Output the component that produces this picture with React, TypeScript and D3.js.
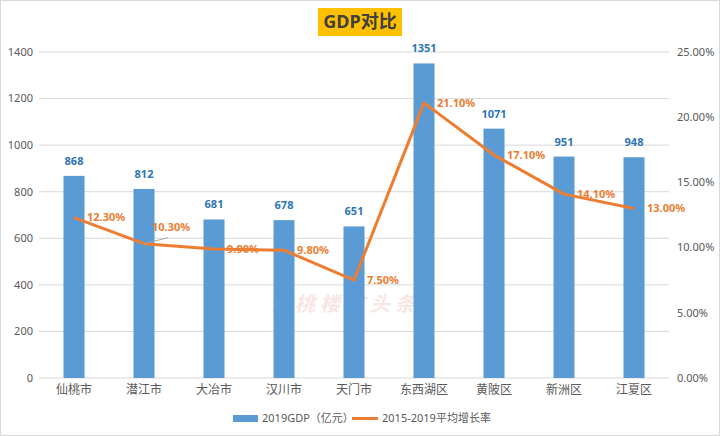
import React from 'react';
import * as d3 from 'd3';

const categories = ['仙桃市', '潜江市', '大冶市', '汉川市', '天门市', '东西湖区', '黄陂区', '新洲区', '江夏区'];
const gdp = [868, 812, 681, 678, 651, 1351, 1071, 951, 948];
const growth = [12.3, 10.3, 9.9, 9.8, 7.5, 21.1, 17.1, 14.1, 13.0];
const leftTicks = [0, 200, 400, 600, 800, 1000, 1200, 1400];
const rightTicks = [0, 5, 10, 15, 20, 25];

const W = 720;
const H = 436;
const margin = { top: 52, right: 51, bottom: 58, left: 39 };
const FONT = '"Noto Sans", "Noto Sans CJK SC", sans-serif';

export default function App() {
  const x = d3.scaleBand<string>()
    .domain(categories)
    .range([margin.left, W - margin.right])
    .paddingInner(0.7)
    .paddingOuter(0.35);
  const band = d3.scaleBand<string>().domain(categories).range([margin.left, W - margin.right]);
  const yL = d3.scaleLinear().domain([0, 1400]).range([H - margin.bottom, margin.top]);
  const yR = d3.scaleLinear().domain([0, 25]).range([H - margin.bottom, margin.top]);
  const cx = (c: string) => band(c)! + band.bandwidth() / 2;

  const line = d3.line<number>()
    .x((_, i) => cx(categories[i]))
    .y((d) => yR(d));

  return (
    <svg width={W} height={H} style={{ position: 'absolute', left: 0, top: 0, fontFamily: FONT }}>
      <rect x={0.5} y={0.5} width={W - 1} height={H - 1} fill="#fff" stroke="#d9d9d9" />

      {/* title */}
      <rect x={318} y={8} width={84} height={28} fill="#FFC000" />
      <text x={360} y={28} textAnchor="middle" fontSize={18} fontWeight="bold" fill="#404040">GDP对比</text>

      {/* grid */}
      {leftTicks.map((t) => (
        <line key={t} x1={margin.left} x2={W - margin.right} y1={yL(t)} y2={yL(t)}
          stroke="#d9d9d9" strokeWidth={1} />
      ))}
      {leftTicks.map((t) => (
        <text key={t} x={33} y={yL(t)} dy="0.35em" textAnchor="end" fontSize={11} fill="#595959">{t}</text>
      ))}
      {rightTicks.map((t) => (
        <text key={t} x={677} y={yR(t)} dy="0.35em" textAnchor="start" fontSize={11} fill="#595959">
          {t.toFixed(2)}%
        </text>
      ))}

      {/* watermark */}
      <text x={345} y={311} textAnchor="middle" fontSize={20} fontWeight="bold" fontStyle="italic"
        fill="#f4c7c7" opacity={0.45} letterSpacing={5}>仙桃楼市头条</text>

      {/* bars */}
      {categories.map((c, i) => (
        <rect key={c} x={x(c)} y={yL(gdp[i])} width={x.bandwidth()} height={yL(0) - yL(gdp[i])}
          fill="#5B9BD5" />
      ))}
      {categories.map((c, i) => (
        <text key={c} x={cx(c)} y={yL(gdp[i]) - 11} textAnchor="middle" fontSize={11}
          fontWeight="bold" fill="#2E75B6">{gdp[i]}</text>
      ))}

      {/* category labels */}
      {categories.map((c) => (
        <text key={c} x={cx(c)} y={394} textAnchor="middle" fontSize={12} fill="#595959">{c}</text>
      ))}

      {/* growth line */}
      <path d={line(growth)!} fill="none" stroke="#ED7D31" strokeWidth={3} strokeLinejoin="round" />
      <line x1={cx(categories[1])} y1={yR(growth[1])} x2={cx(categories[1]) + 24} y2={yR(growth[1]) - 6}
        stroke="#a6a6a6" strokeWidth={1} />
      {categories.map((c, i) => {
        const lifted = i === 1;
        return (
          <text key={c} x={cx(c) + (lifted ? 8 : 13)} y={yR(growth[i]) - (lifted ? 17 : 0)} dy="0.35em"
            textAnchor="start" fontSize={11} fontWeight="bold" fill="#ED7D31">
            {growth[i].toFixed(2)}%
          </text>
        );
      })}

      {/* legend */}
      <rect x={233} y={415} width={25} height={7} fill="#5B9BD5" />
      <text x={262} y={422} fontSize={11} fill="#595959">2019GDP（亿元）</text>
      <line x1={352} x2={378} y1={418.5} y2={418.5} stroke="#ED7D31" strokeWidth={3} />
      <text x={382} y={422} fontSize={11} fill="#595959">2015-2019平均增长率</text>
    </svg>
  );
}
